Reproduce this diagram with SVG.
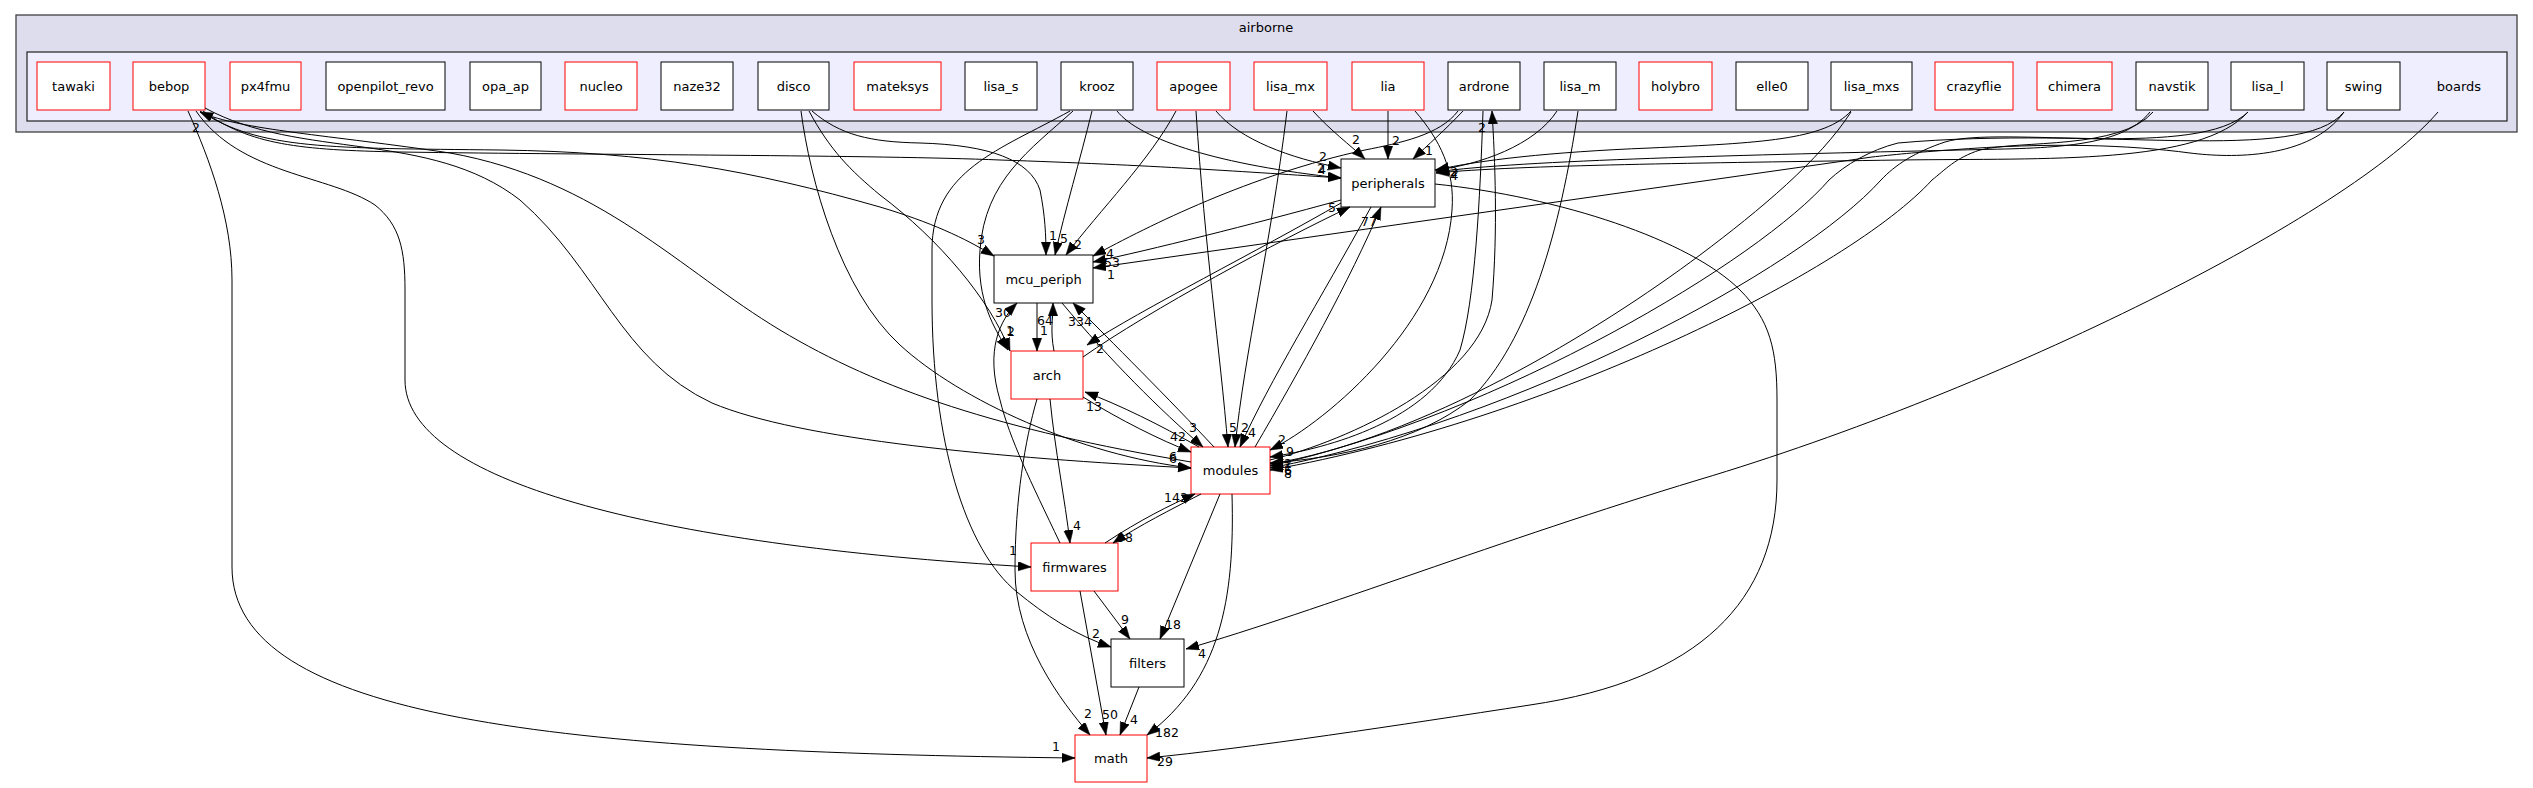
<svg xmlns="http://www.w3.org/2000/svg" width="2533" height="788" viewBox="0 0 2533 788">
<style>
.nb{fill:#fff;stroke:#000;stroke-width:1}
.nr{fill:#fff;stroke:#ff0000;stroke-width:1}
.t{font-family:"DejaVu Sans",sans-serif;font-size:13px;text-anchor:middle;fill:#000}
.l{font-family:"DejaVu Sans",sans-serif;font-size:12.5px;text-anchor:middle;fill:#000}
.e path{fill:none;stroke:#000;stroke-width:1;marker-end:url(#a)}
</style>
<defs>
<marker id="a" markerWidth="14" markerHeight="10" refX="13" refY="4.7" orient="auto" markerUnits="userSpaceOnUse"><path d="M0,0 L13,4.7 L0,9.4 z" fill="#000" stroke="#000" stroke-width="0.5"/></marker>
</defs>
<rect width="2533" height="788" fill="#fff"/>
<g id="cluster-airborne">
<rect x="16" y="15" width="2501" height="117" fill="#ddddee" stroke="#404040" stroke-width="1.3"/>
<text class="t" x="1266" y="32">airborne</text>
</g>
<g id="cluster-boards">
<rect x="27" y="52" width="2480" height="69" fill="#eeeeff" stroke="#202020" stroke-width="1.2"/>
<text class="t" x="2459" y="91">boards</text>
</g>
<g id="n-tawaki"><rect class="nr" x="37" y="62" width="73" height="48"/><text class="t" x="73.5" y="90.5">tawaki</text></g>
<g id="n-bebop"><rect class="nr" x="133" y="62" width="72" height="48"/><text class="t" x="169" y="90.5">bebop</text></g>
<g id="n-px4fmu"><rect class="nr" x="230" y="62" width="71" height="48"/><text class="t" x="265.5" y="90.5">px4fmu</text></g>
<g id="n-openpilot_revo"><rect class="nb" x="326" y="62" width="119" height="48"/><text class="t" x="385.5" y="90.5">openpilot_revo</text></g>
<g id="n-opa_ap"><rect class="nb" x="470" y="62" width="71" height="48"/><text class="t" x="505.5" y="90.5">opa_ap</text></g>
<g id="n-nucleo"><rect class="nr" x="565" y="62" width="72" height="48"/><text class="t" x="601" y="90.5">nucleo</text></g>
<g id="n-naze32"><rect class="nb" x="661" y="62" width="72" height="48"/><text class="t" x="697" y="90.5">naze32</text></g>
<g id="n-disco"><rect class="nb" x="758" y="62" width="71" height="48"/><text class="t" x="793.5" y="90.5">disco</text></g>
<g id="n-mateksys"><rect class="nr" x="854" y="62" width="87" height="48"/><text class="t" x="897.5" y="90.5">mateksys</text></g>
<g id="n-lisa_s"><rect class="nb" x="965" y="62" width="72" height="48"/><text class="t" x="1001" y="90.5">lisa_s</text></g>
<g id="n-krooz"><rect class="nb" x="1061" y="62" width="72" height="48"/><text class="t" x="1097" y="90.5">krooz</text></g>
<g id="n-apogee"><rect class="nr" x="1157" y="62" width="73" height="48"/><text class="t" x="1193.5" y="90.5">apogee</text></g>
<g id="n-lisa_mx"><rect class="nr" x="1254" y="62" width="73" height="48"/><text class="t" x="1290.5" y="90.5">lisa_mx</text></g>
<g id="n-lia"><rect class="nr" x="1352" y="62" width="72" height="48"/><text class="t" x="1388" y="90.5">lia</text></g>
<g id="n-ardrone"><rect class="nb" x="1448" y="62" width="72" height="48"/><text class="t" x="1484" y="90.5">ardrone</text></g>
<g id="n-lisa_m"><rect class="nb" x="1544" y="62" width="72" height="48"/><text class="t" x="1580" y="90.5">lisa_m</text></g>
<g id="n-holybro"><rect class="nr" x="1639" y="62" width="73" height="48"/><text class="t" x="1675.5" y="90.5">holybro</text></g>
<g id="n-elle0"><rect class="nb" x="1736" y="62" width="72" height="48"/><text class="t" x="1772" y="90.5">elle0</text></g>
<g id="n-lisa_mxs"><rect class="nb" x="1831" y="62" width="81" height="48"/><text class="t" x="1871.5" y="90.5">lisa_mxs</text></g>
<g id="n-crazyflie"><rect class="nr" x="1935" y="62" width="78" height="48"/><text class="t" x="1974" y="90.5">crazyflie</text></g>
<g id="n-chimera"><rect class="nr" x="2037" y="62" width="75" height="48"/><text class="t" x="2074.5" y="90.5">chimera</text></g>
<g id="n-navstik"><rect class="nb" x="2136" y="62" width="72" height="48"/><text class="t" x="2172" y="90.5">navstik</text></g>
<g id="n-lisa_l"><rect class="nb" x="2231" y="62" width="73" height="48"/><text class="t" x="2267.5" y="90.5">lisa_l</text></g>
<g id="n-swing"><rect class="nb" x="2327" y="62" width="73" height="48"/><text class="t" x="2363.5" y="90.5">swing</text></g>
<g id="n-peripherals"><rect class="nb" x="1341" y="159" width="94" height="48"/><text class="t" x="1388" y="187.5">peripherals</text></g>
<g id="n-mcu_periph"><rect class="nb" x="994" y="255" width="99" height="48"/><text class="t" x="1043.5" y="283.5">mcu_periph</text></g>
<g id="n-arch"><rect class="nr" x="1011" y="351" width="72" height="48"/><text class="t" x="1047" y="379.5">arch</text></g>
<g id="n-modules"><rect class="nr" x="1191" y="447" width="79" height="47"/><text class="t" x="1230.5" y="475">modules</text></g>
<g id="n-firmwares"><rect class="nr" x="1031" y="543" width="87" height="48"/><text class="t" x="1074.5" y="571.5">firmwares</text></g>
<g id="n-filters"><rect class="nb" x="1111" y="639" width="73" height="48"/><text class="t" x="1147.5" y="667.5">filters</text></g>
<g id="n-math"><rect class="nr" x="1075" y="735" width="72" height="47"/><text class="t" x="1111" y="763">math</text></g>
<g id="edges" class="e">
<path d="M188,111 C210,160 232,220 232,280 L232,567 C232,720 560,752 1075,758"/>
<path d="M196,111 C240,175 330,175 375,205 C400,225 405,250 405,290 L405,380 C405,480 650,545 1031,567"/>
<path d="M200,111 C260,150 330,148 500,150 C650,152 750,170 880,207 C930,222 965,238 994,256"/>
<path d="M205,108 C300,160 430,130 520,200 C600,270 620,360 712,403 C800,440 1000,458 1191,468"/>
<path d="M1191,462 C1000,430 880,390 780,330 C680,270 600,180 450,153 C330,135 240,130 200,112"/>
<path d="M203,111 C250,145 300,150 400,152 C600,155 880,155 1000,160 C1150,165 1250,172 1341,178"/>
<path d="M812,111 C840,135 870,142 920,143 C990,145 1030,160 1040,190 C1045,215 1046,235 1046,255"/>
<path d="M809,111 C830,150 850,170 880,195 C940,240 990,300 1010,351"/>
<path d="M801,111 C810,180 840,290 900,345 C960,400 1080,455 1191,468"/>
<path d="M1092,111 C1080,160 1065,210 1055,255"/>
<path d="M1117,111 C1140,140 1220,165 1341,178"/>
<path d="M1073,111 C1030,150 985,180 980,250 C976,300 995,330 1008,350"/>
<path d="M1070,111 C1000,150 932,170 932,250 L932,300 C932,440 965,550 1017,592 C1045,615 1075,635 1111,647"/>
<path d="M1037,399 C1025,440 1015,500 1015,570 C1015,640 1060,700 1090,735"/>
<path d="M1176,111 C1150,160 1100,210 1066,255"/>
<path d="M1196,111 C1205,250 1220,350 1228,447"/>
<path d="M1216,111 C1240,140 1290,158 1341,168"/>
<path d="M1287,111 C1270,250 1245,350 1235,447"/>
<path d="M1313,111 C1330,130 1350,145 1365,159"/>
<path d="M1388,111 L1388,159"/>
<path d="M1415,111 C1440,140 1455,170 1452,210 C1445,320 1330,420 1270,450"/>
<path d="M1463,111 C1445,130 1428,145 1413,159"/>
<path d="M1458,111 C1440,135 1400,143 1365,150 C1250,175 1150,225 1093,256"/>
<path d="M1483,111 C1480,200 1475,300 1460,350 C1430,420 1330,448 1270,457"/>
<path d="M1270,460 C1350,440 1480,380 1492,300 C1498,230 1495,160 1492,111"/>
<path d="M1557,111 C1535,145 1480,165 1435,170"/>
<path d="M1578,111 C1560,230 1530,340 1470,400 C1420,440 1340,458 1270,463"/>
<path d="M1851,111 C1825,140 1760,143 1650,148 C1550,152 1480,160 1436,170"/>
<path d="M1851,112 C1820,160 1760,210 1700,255 C1600,330 1420,440 1270,464"/>
<path d="M2150,112 C2120,150 2040,148 1960,150 C1750,155 1520,160 1436,172"/>
<path d="M2153,112 C2120,150 2020,140 1980,150 C1955,158 1945,170 1932,180 C1850,270 1550,420 1270,470"/>
<path d="M2248,112 C2200,165 2050,158 1900,160 C1700,163 1520,165 1436,173"/>
<path d="M2248,112 C2200,160 2000,125 1945,142 C1915,152 1895,165 1881,180 C1800,270 1520,420 1270,468"/>
<path d="M2344,112 C2310,160 2230,158 2190,153 C2130,145 2050,142 1950,150 C1920,152 1890,155 1872,157 L1093,268"/>
<path d="M2344,112 C2300,165 2100,125 1898,143 C1870,150 1845,165 1829,180 C1760,260 1500,415 1270,466"/>
<path d="M2438,112 C2350,215 2000,390 1698,480 C1500,540 1320,610 1186,649"/>
<path d="M1435,184 C1560,197 1690,240 1740,290 C1770,320 1777,350 1777,400 L1777,480 C1777,600 1700,680 1530,705 C1400,725 1250,748 1147,758"/>
<path d="M1341,200 C1250,225 1150,250 1093,262"/>
<path d="M1083,357 C1150,310 1280,240 1350,207"/>
<path d="M1341,203 C1260,250 1140,310 1087,345"/>
<path d="M1037,303 L1037,351"/>
<path d="M1054,351 C1050,330 1053,320 1053,303"/>
<path d="M1060,543 C1030,480 1010,440 1000,400 C985,350 1000,320 1017,303"/>
<path d="M1062,303 C1110,360 1160,410 1203,447"/>
<path d="M1214,447 C1170,400 1110,340 1073,303"/>
<path d="M1371,207 C1320,300 1270,380 1240,447"/>
<path d="M1255,447 C1300,370 1350,280 1381,207"/>
<path d="M1083,397 C1120,420 1160,440 1191,452"/>
<path d="M1199,447 C1160,425 1120,405 1085,392"/>
<path d="M1050,399 C1055,450 1065,500 1070,543"/>
<path d="M1105,543 C1140,520 1170,505 1195,494"/>
<path d="M1201,494 C1170,510 1140,525 1113,543"/>
<path d="M1094,591 L1130,639"/>
<path d="M1080,591 L1106,735"/>
<path d="M1139,687 L1120,735"/>
<path d="M1220,494 L1160,639"/>
<path d="M1232,494 C1235,600 1220,680 1147,735"/>
</g>
<g id="labels">
<text class="l" x="1056" y="751">1</text>
<text class="l" x="1013" y="555">1</text>
<text class="l" x="981" y="244">3</text>
<text class="l" x="1173" y="461">6</text>
<text class="l" x="1173" y="463">6</text>
<text class="l" x="196" y="132">2</text>
<text class="l" x="1322" y="174">4</text>
<text class="l" x="1321" y="173">2</text>
<text class="l" x="1053" y="240">1</text>
<text class="l" x="1010" y="335">1</text>
<text class="l" x="1011" y="336">2</text>
<text class="l" x="1064" y="243">5</text>
<text class="l" x="1096" y="638">2</text>
<text class="l" x="1088" y="718">2</text>
<text class="l" x="1078" y="249">2</text>
<text class="l" x="1233" y="432">5</text>
<text class="l" x="1323" y="161">2</text>
<text class="l" x="1245" y="432">2</text>
<text class="l" x="1356" y="144">2</text>
<text class="l" x="1396" y="145">2</text>
<text class="l" x="1282" y="444">2</text>
<text class="l" x="1429" y="155">1</text>
<text class="l" x="1110" y="258">4</text>
<text class="l" x="1290" y="456">9</text>
<text class="l" x="1482" y="132">2</text>
<text class="l" x="1454" y="176">2</text>
<text class="l" x="1455" y="178">2</text>
<text class="l" x="1454" y="180">4</text>
<text class="l" x="1288" y="468">2</text>
<text class="l" x="1288" y="471">1</text>
<text class="l" x="1288" y="475">6</text>
<text class="l" x="1288" y="478">8</text>
<text class="l" x="1202" y="658">4</text>
<text class="l" x="1165" y="766">29</text>
<text class="l" x="1112" y="267">53</text>
<text class="l" x="1111" y="279">1</text>
<text class="l" x="1332" y="212">5</text>
<text class="l" x="1100" y="353">2</text>
<text class="l" x="1044" y="335">1</text>
<text class="l" x="1045" y="325">64</text>
<text class="l" x="1003" y="317">30</text>
<text class="l" x="1193" y="432">3</text>
<text class="l" x="1080" y="326">334</text>
<text class="l" x="1252" y="437">4</text>
<text class="l" x="1369" y="226">77</text>
<text class="l" x="1178" y="441">42</text>
<text class="l" x="1094" y="411">13</text>
<text class="l" x="1077" y="530">4</text>
<text class="l" x="1176" y="502">142</text>
<text class="l" x="1125" y="542">98</text>
<text class="l" x="1125" y="624">9</text>
<text class="l" x="1110" y="719">50</text>
<text class="l" x="1134" y="724">4</text>
<text class="l" x="1173" y="629">18</text>
<text class="l" x="1167" y="737">182</text>
</g>
</svg>
